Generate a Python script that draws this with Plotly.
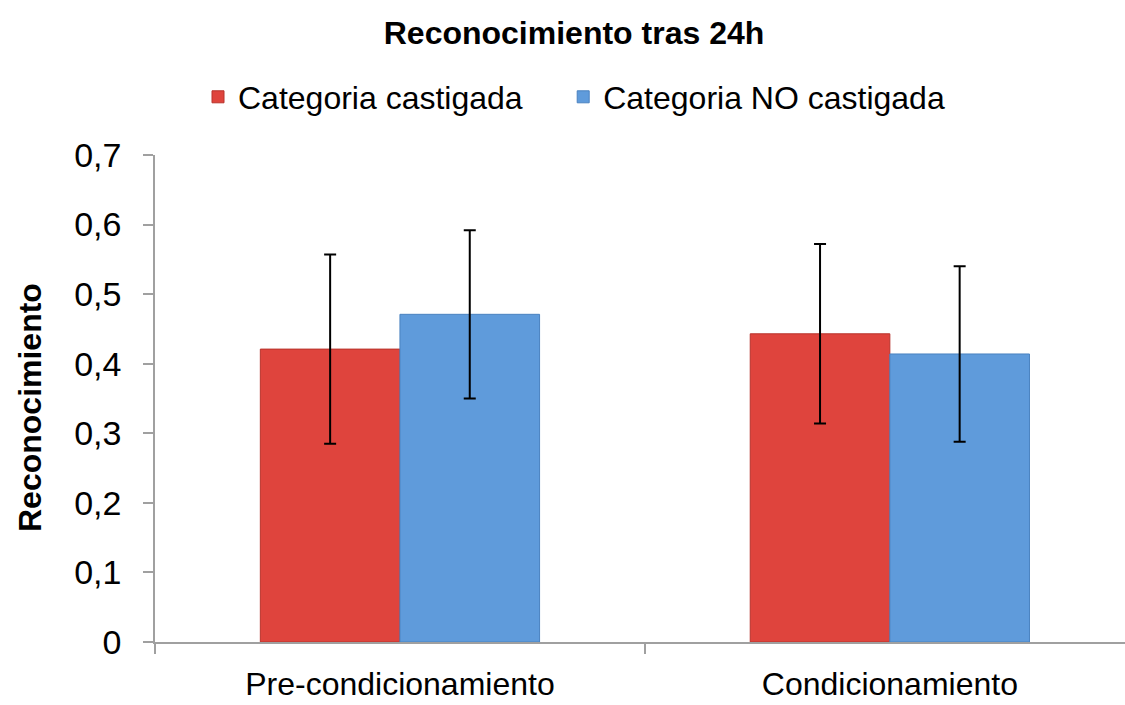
import plotly.graph_objects as go

categories = ["Pre-condicionamiento", "Condicionamiento"]
series_names = ["Categoria castigada", "Categoria NO castigada"]
castigada = [0.421, 0.443]
castigada_err = [0.136, 0.129]
no_castigada = [0.471, 0.414]
no_castigada_err = [0.121, 0.126]
y_ticks = [0, 0.1, 0.2, 0.3, 0.4, 0.5, 0.6, 0.7]
y_ticktext = ["0", "0,1", "0,2", "0,3", "0,4", "0,5", "0,6", "0,7"]

FONT = "Liberation Sans, Arial, sans-serif"
PAD = "\u00a0" * 4  # spacing between legend entries

fig = go.Figure()
fig.add_trace(go.Bar(
    name=series_names[0] + PAD, x=categories, y=castigada,
    marker=dict(color="#DF443D", line=dict(color="#B8332C", width=1)),
    error_y=dict(type="data", array=castigada_err, visible=True,
                 color="black", thickness=2, width=6),
))
fig.add_trace(go.Bar(
    name=series_names[1], x=categories, y=no_castigada,
    marker=dict(color="#5F9BDB", line=dict(color="#4A82C0", width=1)),
    error_y=dict(type="data", array=no_castigada_err, visible=True,
                 color="black", thickness=2, width=6),
))

fig.update_layout(
    width=1125, height=705,
    margin=dict(l=155, r=0, t=155, b=63, autoexpand=False),
    paper_bgcolor="white", plot_bgcolor="white",
    barmode="group", bargap=0.43, bargroupgap=0,
    font=dict(family=FONT, color="black"),
    title=dict(text="<b>Reconocimiento tras 24h</b>", x=574/1125, xref="container",
               xanchor="center", y=1-33/705, yref="container", yanchor="middle",
               font=dict(size=32, family=FONT, color="black")),
    legend=dict(orientation="h", x=198/1125, xref="container", xanchor="left",
                y=1-97/705, yref="container", yanchor="middle",
                font=dict(size=32, family=FONT),
                bgcolor="rgba(0,0,0,0)"),
    showlegend=True,
)

fig.update_xaxes(
    range=[-0.5, 1.48], showline=True, linecolor="#A0A0A0", linewidth=1.5,
    showgrid=False, ticks="outside", tickson="boundaries", ticklen=10,
    tickcolor="#A0A0A0", tickwidth=1.5, ticklabelstandoff=13, automargin=False,
    tickfont=dict(size=32, family=FONT, color="black"),
)
fig.update_yaxes(
    range=[0, 0.7], tickvals=y_ticks, ticktext=y_ticktext,
    showline=True, linecolor="#A0A0A0", linewidth=1.5,
    showgrid=False, zeroline=False, ticks="outside", ticklen=10,
    tickcolor="#A0A0A0", tickwidth=1.5, ticklabelstandoff=15, automargin=False,
    tickfont=dict(size=34, family=FONT, color="black"),
)

fig.add_annotation(
    text="<b>Reconocimiento</b>", textangle=-90,
    x=(30-155)/970, xref="paper", y=(642-408)/487, yref="paper", showarrow=False,
    xanchor="center", yanchor="middle",
    font=dict(size=32, family=FONT, color="black"),
)

fig.write_html("out.html", config={"displayModeBar": False},
               post_script="document.body.style.margin='0';")
